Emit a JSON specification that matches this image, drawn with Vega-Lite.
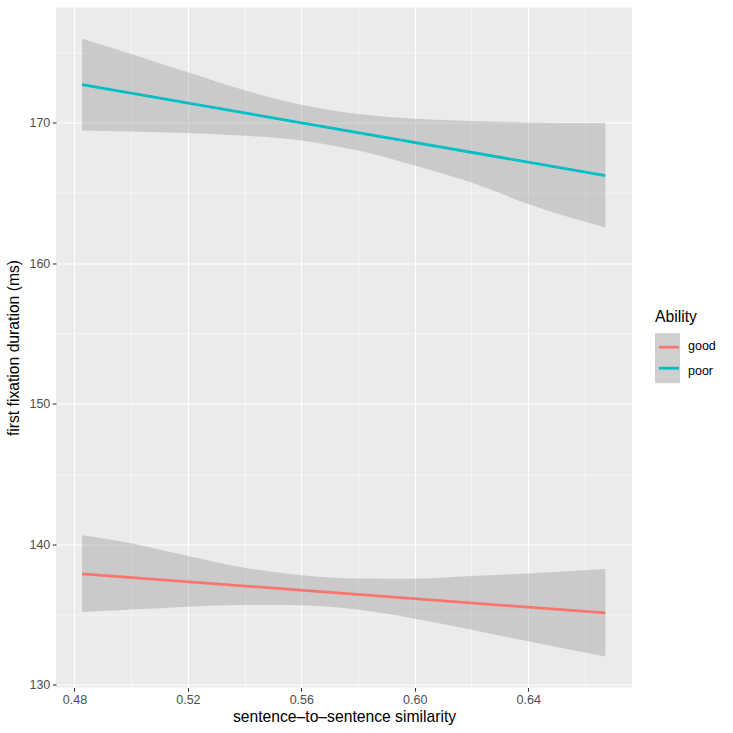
{
  "$schema": "https://vega.github.io/schema/vega-lite/v6.json",
  "width": 576,
  "height": 680,
  "autosize": {"type": "none"},
  "padding": {"left": 56, "top": 7.5, "right": 101, "bottom": 45.5},
  "background": "white",
  "config": {
    "view": {"fill": "#EBEBEB", "stroke": null},
    "font": "Liberation Sans",
    "axis": {
      "domain": false,
      "gridColor": "white",
      "tickColor": "#333333",
      "tickSize": 3.7,
      "tickWidth": 1.1,
      "labelColor": "#4D4D4D",
      "labelFontSize": 12.5,
      "labelPadding": 2.5,
      "titleFontSize": 15.7,
      "titleColor": "black",
      "titleFontWeight": "normal",
      "labelFlush": false,
      "labelOverlap": false
    }
  },
  "datasets": {
    "bands": [
      {"Ability": "good", "x": 0.4827, "lo": 135.19, "hi": 140.64},
      {"Ability": "good", "x": 0.50, "lo": 135.36, "hi": 140.07},
      {"Ability": "good", "x": 0.52, "lo": 135.57, "hi": 139.17},
      {"Ability": "good", "x": 0.54, "lo": 135.69, "hi": 138.33},
      {"Ability": "good", "x": 0.56, "lo": 135.67, "hi": 137.81},
      {"Ability": "good", "x": 0.58, "lo": 135.36, "hi": 137.57},
      {"Ability": "good", "x": 0.60, "lo": 134.71, "hi": 137.55},
      {"Ability": "good", "x": 0.62, "lo": 133.93, "hi": 137.74},
      {"Ability": "good", "x": 0.64, "lo": 133.10, "hi": 137.93},
      {"Ability": "good", "x": 0.6672, "lo": 132.02, "hi": 138.24},
      {"Ability": "poor", "x": 0.4827, "lo": 169.43, "hi": 175.94},
      {"Ability": "poor", "x": 0.50, "lo": 169.36, "hi": 174.87},
      {"Ability": "poor", "x": 0.52, "lo": 169.24, "hi": 173.56},
      {"Ability": "poor", "x": 0.54, "lo": 169.05, "hi": 172.28},
      {"Ability": "poor", "x": 0.56, "lo": 168.72, "hi": 171.26},
      {"Ability": "poor", "x": 0.58, "lo": 168.00, "hi": 170.59},
      {"Ability": "poor", "x": 0.60, "lo": 166.94, "hi": 170.26},
      {"Ability": "poor", "x": 0.62, "lo": 165.72, "hi": 170.10},
      {"Ability": "poor", "x": 0.64, "lo": 164.20, "hi": 170.00},
      {"Ability": "poor", "x": 0.6672, "lo": 162.52, "hi": 169.95}
    ],
    "fits": [
      {"Ability": "good", "x": 0.4827, "fit": 137.90},
      {"Ability": "good", "x": 0.6672, "fit": 135.12},
      {"Ability": "poor", "x": 0.4827, "fit": 172.68},
      {"Ability": "poor", "x": 0.6672, "fit": 166.22}
    ]
  },
  "layer": [
    {
      "data": {"name": "bands"},
      "mark": {"type": "area", "fillOpacity": 0.4, "strokeWidth": 0, "interpolate": "monotone"},
      "encoding": {
        "x": {
          "field": "x", "type": "quantitative",
          "scale": {"domain": [0.4735, 0.6766], "nice": false, "zero": false},
          "title": "sentence\u2013to\u2013sentence similarity",
          "axis": {
            "values": [0.48, 0.50, 0.52, 0.54, 0.56, 0.58, 0.60, 0.62, 0.64, 0.66],
            "format": ".2f",
            "labelExpr": "round(datum.value*100) % 4 == 0 ? datum.label : ''",
            "gridWidth": {"condition": {"test": "round(datum.value*100) % 4 == 0", "value": 1.1}, "value": 0.55},
            "tickOpacity": {"condition": {"test": "round(datum.value*100) % 4 == 0", "value": 1}, "value": 0},
            "titlePadding": 3
          }
        },
        "y": {
          "field": "lo", "type": "quantitative",
          "scale": {"domain": [129.82, 178.17], "nice": false, "zero": false},
          "title": "first fixation duration (ms)",
          "axis": {
            "values": [130, 135, 140, 145, 150, 155, 160, 165, 170, 175],
            "labelExpr": "datum.value % 10 == 0 ? datum.label : ''",
            "gridWidth": {"condition": {"test": "datum.value % 10 == 0", "value": 1.1}, "value": 0.55},
            "tickOpacity": {"condition": {"test": "datum.value % 10 == 0", "value": 1}, "value": 0},
            "titlePadding": 7
          }
        },
        "y2": {"field": "hi"},
        "fill": {
          "field": "Ability", "type": "nominal",
          "scale": {"range": ["#999999", "#999999"]},
          "legend": {
            "orient": "none",
            "legendX": 599,
            "legendY": 302,
            "title": "Ability",
            "titleFontSize": 15.7,
            "titleFontWeight": "normal",
            "titleColor": "black",
            "titlePadding": 8,
            "padding": 0,
            "symbolType": "square",
            "symbolSize": 625,
            "symbolStrokeWidth": 0,
            "symbolOpacity": 0.47,
            "rowPadding": 0,
            "labelFontSize": 12.5,
            "labelColor": "black",
            "labelOffset": 8
          }
        }
      }
    },
    {
      "data": {"name": "fits"},
      "mark": {"type": "line", "strokeWidth": 2.8},
      "encoding": {
        "x": {"field": "x", "type": "quantitative", "title": "sentence\u2013to\u2013sentence similarity"},
        "y": {"field": "fit", "type": "quantitative", "title": "first fixation duration (ms)"},
        "stroke": {
          "field": "Ability", "type": "nominal",
          "scale": {"range": ["#F8766D", "#00BFC4"]},
          "legend": {
            "orient": "none",
            "legendX": 599,
            "legendY": 302,
            "title": "Ability",
            "titleFontSize": 15.7,
            "titleFontWeight": "normal",
            "titleOpacity": 0,
            "titlePadding": 8,
            "padding": 0,
            "symbolType": "M-0.8,0H0.8",
            "symbolSize": 625,
            "symbolStrokeWidth": 2.8,
            "rowPadding": 0,
            "labelFontSize": 12.5,
            "labelExpr": "''",
            "labelOffset": 8
          }
        }
      }
    }
  ]
}
